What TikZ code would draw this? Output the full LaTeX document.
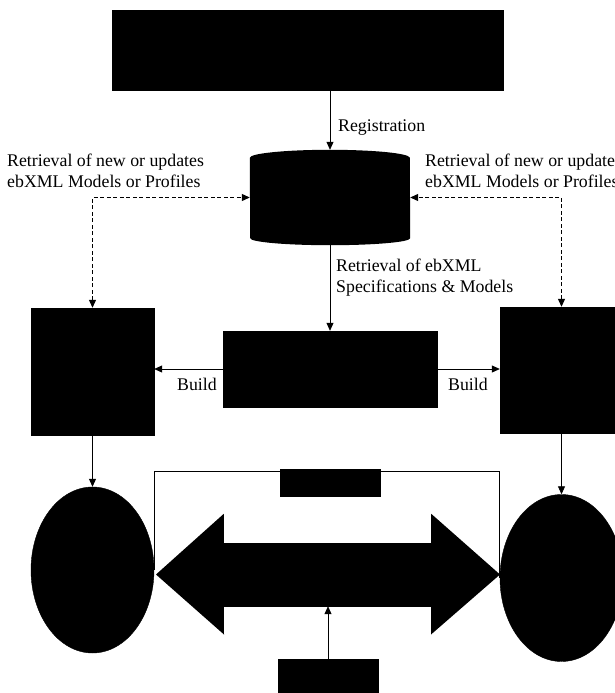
\documentclass[tikz,border=0pt]{standalone}
\usepackage{fontspec}
\setmainfont{Liberation Serif}
\usetikzlibrary{shapes.geometric,arrows.meta}

\begin{document}
\begin{tikzpicture}[x=1pt,y=-1pt,
  blk/.style={fill=black,draw=black,inner sep=0pt},
  lbl/.style={font=\fontsize{17.8}{21}\selectfont,align=left,inner sep=0pt},
  arr/.style={-{Triangle[length=8pt,width=7pt]},line width=0.8pt},
  darr/.style={{Triangle[length=8pt,width=7pt]}-{Triangle[length=8pt,width=7pt]},line width=1.1pt,dash pattern=on 4pt off 2.5pt}]
\useasboundingbox (0,0) rectangle (615,693);
% boxes
\node (top) [blk,minimum width=391pt,minimum height=80pt] at (307.5,50) {};
\node (repo) [minimum width=160pt,minimum height=95pt,inner sep=0pt] at (330,197.5) {};
\fill ([yshift=-8pt]repo.north west) arc[start angle=180,end angle=0,x radius=80pt,y radius=8pt]
  -- ([yshift=7pt]repo.south east) arc[start angle=0,end angle=-180,x radius=80pt,y radius=7pt] -- cycle;
\node (mid) [blk,minimum width=214pt,minimum height=76pt] at (330,369) {};
\node (lbox) [blk,minimum width=123pt,minimum height=127pt] at (92.5,371.5) {};
\node (rbox) [blk,minimum width=123pt,minimum height=126pt] at (561.5,370) {};
\node (lell) [blk,ellipse,minimum width=123pt,minimum height=166pt] at (92.5,570) {};
\node (rell) [blk,ellipse,minimum width=123pt,minimum height=167pt] at (561.5,578) {};
\node (small) [blk,minimum width=100pt,minimum height=27pt] at (330,482.5) {};
\node (bot) [blk,minimum width=100pt,minimum height=42pt] at (328,680) {};
% double arrow
\node (link) [blk,minimum width=207pt,minimum height=63pt] at (327.5,574.5) {};
\fill (link.north west) -- ++(0,-29) -- (156,574.5) -- (224,634.5) -- (link.south west) -- cycle;
\fill (link.north east) -- ++(0,-29) -- (500,574.5) -- (431,634.5) -- (link.south east) -- cycle;
% connectors
\draw [arr] (repo |- top.south) -- (repo.north);
\node [lbl,anchor=west] at (338,128) {Registration};
\draw [darr] (lbox.north) |- (repo.west);
\draw [darr] (rbox.north) |- (repo.east);
\node [lbl,anchor=west] at (7,170.5) {Retrieval of new or updates\\ebXML Models or Profiles};
\node [lbl,anchor=west] at (425,170.5) {Retrieval of new or updates\\ebXML Models or Profiles};
\draw [arr] (repo.south) -- (mid.north);
\node [lbl,anchor=west] at (336,277.5) {Retrieval of ebXML\\Specifications \& Models};
\draw [arr] (mid.west) -- (mid.west -| lbox.east);
\node [lbl] at (197,384) {Build};
\draw [arr] (mid.east) -- (mid.east -| rbox.west);
\node [lbl] at (468,384) {Build};
\draw [arr] (lbox.south) -- (lell.north);
\draw [arr] (rbox.south) -- (rell.north);
\draw [line width=0.8pt] ([yshift=-3pt]small.north west) -| (lell.east);
\draw [line width=0.8pt] ([yshift=-3pt]small.north east) -| (rell.west);
\draw [arr] (bot.north) -- (link.south -| bot.north);
\end{tikzpicture}
\end{document}
